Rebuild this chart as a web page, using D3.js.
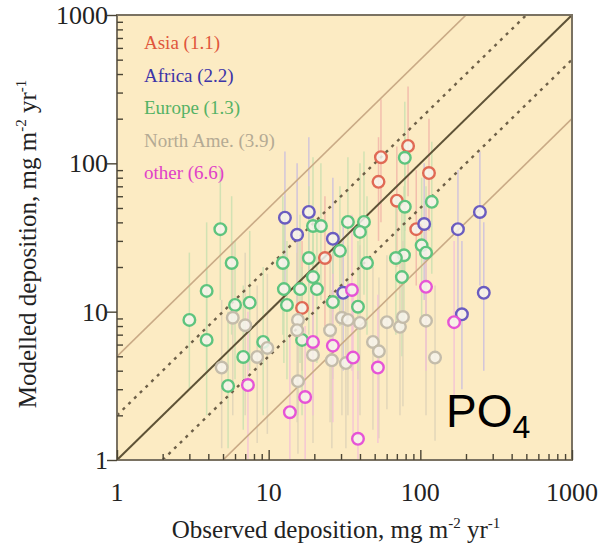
<!DOCTYPE html>
<html>
<head>
<meta charset="utf-8">
<script src="https://cdn.jsdelivr.net/npm/d3@7"></script>
<style>
  body { margin: 0; background: #fff; }
  svg { display: block; }
  .serif { font-family: "Liberation Serif", "Times New Roman", "DejaVu Serif", serif; }
</style>
</head>
<body>
<div id="chart"></div>
<script>
// observed (x) / modelled (y) deposition, mg m-2 yr-1, with vertical range bars
var asiaObs = [83, 55, 53, 114, 70, 94, 23.5, 16.6];
var asiaMod = [131, 110, 75, 86, 56, 36, 23, 10.6];
var asiaHi  = [330, 270, 150, 200, 130, 90, 60, 30];
var asiaLo  = [60, 40, 30, 35, 20, 15, 8, 4];

var africaObs = [12.8, 18.4, 15.4, 26.5, 31, 106, 177, 247, 262, 188];
var africaMod = [43, 47, 33, 31, 13.4, 39, 36, 47, 13.4, 9.6];
var africaHi  = [120, 150, 100, 80, 40, 100, 90, 120, 40, 30];
var africaLo  = [15, 15, 10, 10, 4, 12, 10, 15, 4, 3];

var europeObs = [4.8, 5.7, 3.9, 3.0, 3.9, 5.4, 6.8, 6.0, 7.5, 9.2, 12.4, 18.4, 19.6, 22.1, 12.6, 16.1, 20.8, 19.6,
                 13.2, 16.6, 26.5, 29.5, 33.3, 42.5, 40, 79, 79, 119, 102, 109, 78, 69, 44.5, 38.8, 75.6];
var europeMod = [36, 21.3, 13.8, 8.8, 6.45, 3.16, 4.95, 11.1, 11.5, 6.25, 21.3, 23, 37.8, 37.8, 14.2, 14.2, 14.2, 17.1,
                 11.1, 6.45, 11.6, 25.7, 40.3, 40.3, 34.5, 109, 51, 55, 28, 25, 24, 23, 21.3, 10.8, 17.1];
var europeHi  = [90, 60, 40, 25, 20, 10, 15, 30, 35, 20, 60, 70, 110, 100, 40, 45, 40, 50,
                 30, 20, 35, 70, 110, 120, 100, 260, 150, 140, 80, 70, 70, 60, 60, 30, 50];
var europeLo  = [12, 7, 4, 3, 2, 1.2, 1.6, 3.5, 4, 2, 7, 7, 12, 12, 4.5, 4.5, 4.5, 5,
                 3.5, 2, 3.5, 8, 12, 13, 11, 35, 16, 18, 9, 8, 8, 7, 7, 3.5, 5];

var naObs = [5.8, 7.0, 4.9, 8.4, 9.8, 15.6, 15.4, 15.6, 19.6, 25.4, 26.1, 30.4, 33.3, 32.3, 40, 48.7, 53.3, 60.2,
             73.4, 76.8, 109, 125];
var naMod = [9.1, 8.1, 4.2, 4.95, 5.7, 8.8, 7.5, 3.4, 5.1, 7.5, 4.7, 9.1, 8.8, 4.5, 8.4, 6.25, 5.4, 8.5,
             7.9, 9.2, 8.7, 4.9];
var naHi  = [30, 25, 12, 15, 18, 30, 25, 10, 16, 25, 14, 30, 28, 14, 28, 20, 17, 24, 25, 30, 28, 15];
var naLo  = [2, 2, 1.2, 1.3, 1.5, 2, 1.8, 1.1, 1.3, 1.8, 1.2, 2, 2, 1.2, 2, 1.6, 1.4, 2.2, 2, 2.3, 2, 1.35];

var otherObs = [35.4, 109, 167, 19.6, 26.5, 36, 52.5, 38.8, 7.3, 17.4, 13.8];
var otherMod = [14, 14.7, 8.5, 6.25, 5.9, 4.9, 4.2, 1.39, 3.2, 2.66, 2.1];
var otherHi  = [45, 50, 30, 20, 18, 15, 13, 4, 10, 8, 7];
var otherLo  = [4, 4, 2.5, 2, 1.8, 1.5, 1.3, 1, 1, 1, 1];

var seriesNames = ["Asia (1.1)", "Africa (2.2)", "Europe (1.3)", "North Ame. (3.9)", "other (6.6)"];
var tickLabels = [1, 10, 100, 1000];
var ratioLines = [1, 2, 0.5, 5, 0.2];

var width = 601, height = 549;
var x0 = 117, x1 = 572, y0 = 15, y1 = 460;

var x = d3.scaleLog().domain([1, 1000]).range([x0, x1]);
var y = d3.scaleLog().domain([1, 1000]).range([y1, y0]);

var series = [
    {name: seriesNames[0], obs: asiaObs, mod: asiaMod, hi: asiaHi, lo: asiaLo,
     stroke: "#e06a55", text: "#e0563c", bar: "#f1b4a8"},
    {name: seriesNames[1], obs: africaObs, mod: africaMod, hi: africaHi, lo: africaLo,
     stroke: "#6a5cc0", text: "#3c34a8", bar: "#c9bde0"},
    {name: seriesNames[2], obs: europeObs, mod: europeMod, hi: europeHi, lo: europeLo,
     stroke: "#5ec47e", text: "#55b265", bar: "#c8e0b0"},
    {name: seriesNames[3], obs: naObs, mod: naMod, hi: naHi, lo: naLo,
     stroke: "#c4bcaa", text: "#b4aa94", bar: "#ddd2b8"},
    {name: seriesNames[4], obs: otherObs, mod: otherMod, hi: otherHi, lo: otherLo,
     stroke: "#e654d6", text: "#e040c8", bar: "#f4bfd8"}
];

var svg = d3.select("#chart")
    .append("svg")
    .attr("width", width)
    .attr("height", height);

svg.append("defs").append("clipPath").attr("id", "plotclip")
    .append("rect")
    .attr("x", x0).attr("y", y0)
    .attr("width", x1 - x0).attr("height", y1 - y0);

svg.append("rect")
    .attr("x", x0).attr("y", y0)
    .attr("width", x1 - x0).attr("height", y1 - y0)
    .attr("fill", "#fcebc3");

var plot = svg.append("g").attr("clip-path", "url(#plotclip)");

// range bars
series.forEach(function (s) {
    plot.selectAll(null)
        .data(s.obs)
        .enter()
        .append("line")
        .attr("x1", function (d) { return x(d); })
        .attr("x2", function (d) { return x(d); })
        .attr("y1", function (d, i) { return y(s.hi[i]); })
        .attr("y2", function (d, i) { return y(s.lo[i]); })
        .attr("stroke", s.bar)
        .attr("stroke-width", 1.5)
        .style("opacity", 0.8);
});

// 1:1, 1:2 and 1:5 lines
var line = d3.line().x(function (d) { return x(d[0]); }).y(function (d) { return y(d[1]); });
ratioLines.forEach(function (r) {
    var p = plot.append("path")
        .attr("d", line([[1, r], [1000, 1000 * r]]))
        .attr("fill", "none");
    if (r === 1) {
        p.attr("stroke", "#5e5236").attr("stroke-width", 2);
    } else if (r === 2 || r === 0.5) {
        p.attr("stroke", "#6e6048").attr("stroke-width", 2.4).attr("stroke-dasharray", "3,5");
    } else {
        p.attr("stroke", "#c9aa86").attr("stroke-width", 1.6);
    }
});

// points
series.forEach(function (s) {
    plot.selectAll(null)
        .data(s.obs)
        .enter()
        .append("circle")
        .attr("cx", function (d) { return x(d); })
        .attr("cy", function (d, i) { return y(s.mod[i]); })
        .attr("r", 5.8)
        .attr("fill", "#f6f3ec")
        .attr("fill-opacity", 0.85)
        .attr("stroke", s.stroke)
        .attr("stroke-width", 2.4);
});

// frame
svg.append("rect")
    .attr("x", x0).attr("y", y0)
    .attr("width", x1 - x0).attr("height", y1 - y0)
    .attr("fill", "none")
    .attr("stroke", "#7a7262")
    .attr("stroke-width", 2);

// inward ticks on left and bottom
var xAxis = d3.axisBottom(x)
    .tickValues(x.ticks())
    .tickSize(-6)
    .tickFormat("");
var yAxis = d3.axisLeft(y)
    .tickValues(y.ticks())
    .tickSize(-6)
    .tickFormat("");

var gx = svg.append("g").attr("transform", "translate(0," + y1 + ")").call(xAxis);
var gy = svg.append("g").attr("transform", "translate(" + x0 + ",0)").call(yAxis);
[gx, gy].forEach(function (g) {
    g.select(".domain").remove();
    g.selectAll(".tick line")
        .attr("stroke", "#4a4434")
        .attr("stroke-width", 1.4);
    g.selectAll(".tick")
        .filter(function (d) { return tickLabels.indexOf(d) >= 0; })
        .select("line")
        .attr(g === gx ? "y2" : "x2", -10);
});

// tick labels
svg.selectAll(null)
    .data(tickLabels)
    .enter()
    .append("text")
    .attr("class", "serif")
    .attr("x", function (d) { return x(d); })
    .attr("y", 501)
    .attr("text-anchor", "middle")
    .style("font-size", "26px")
    .attr("fill", "#222")
    .text(function (d) { return d; });

svg.selectAll(null)
    .data(tickLabels)
    .enter()
    .append("text")
    .attr("class", "serif")
    .attr("x", 108)
    .attr("y", function (d) { return y(d) + 9; })
    .attr("text-anchor", "end")
    .style("font-size", "26px")
    .attr("fill", "#222")
    .text(function (d) { return d; });

// axis titles
var xt = svg.append("text")
    .attr("class", "serif")
    .attr("x", 336)
    .attr("y", 538)
    .attr("text-anchor", "middle")
    .style("font-size", "25px")
    .attr("fill", "#222");
xt.append("tspan").text("Observed deposition, mg m");
xt.append("tspan").attr("dy", -10).style("font-size", "15px").text("-2");
xt.append("tspan").attr("dy", 10).text(" yr");
xt.append("tspan").attr("dy", -10).style("font-size", "15px").text("-1");

var yt = svg.append("text")
    .attr("class", "serif")
    .attr("transform", "translate(36," + 244 + ") rotate(-90)")
    .attr("text-anchor", "middle")
    .style("font-size", "25px")
    .attr("fill", "#222");
yt.append("tspan").text("Modelled deposition, mg m");
yt.append("tspan").attr("dy", -10).style("font-size", "15px").text("-2");
yt.append("tspan").attr("dy", 10).text(" yr");
yt.append("tspan").attr("dy", -10).style("font-size", "15px").text("-1");

// legend
svg.selectAll(null)
    .data(series)
    .enter()
    .append("text")
    .attr("class", "serif")
    .attr("x", 144)
    .attr("y", function (d, i) { return 49 + i * 32.5; })
    .style("font-size", "19px")
    .attr("fill", function (d) { return d.text; })
    .text(function (d) { return d.name; });

// species label
var po = svg.append("text")
    .attr("x", 446)
    .attr("y", 427)
    .style("font-family", "'Liberation Sans', Arial, sans-serif")
    .style("font-size", "46px")
    .attr("fill", "#000");
po.append("tspan").text("PO");
po.append("tspan").attr("dy", 11).style("font-size", "32px").text("4");
</script>
</body>
</html>
